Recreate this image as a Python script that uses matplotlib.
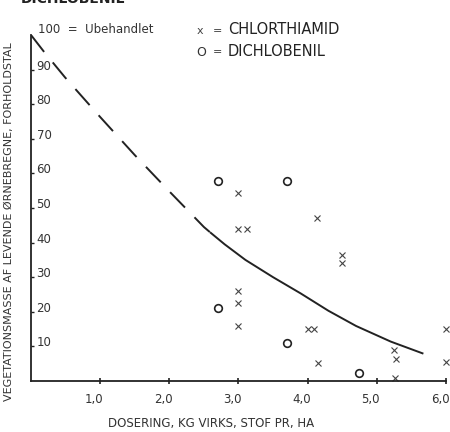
import matplotlib
matplotlib.use("Agg")
import matplotlib.pyplot as plt
from matplotlib.transforms import ScaledTranslation

plt.rcParams['font.family'] = ['DejaVu Sans']

# dose (kg active substance per ha) vs. relative vegetation mass
chlor_x = [3.0, 3.0, 3.13, 3.0, 3.0, 3.0, 4.13, 4.49, 4.50, 4.0, 4.09, 4.15,
           5.25, 5.27, 5.26, 6.0, 6.0]
chlor_y = [54.2, 43.9, 43.9, 26.1, 22.6, 15.9, 47.2, 36.4, 34.2, 14.9, 14.9, 5.1,
           9.0, 6.4, 1.0, 14.9, 5.6]

dichl_x = [2.70, 3.70, 2.70, 3.70, 4.74]
dichl_y = [57.9, 57.9, 21.2, 11.1, 2.4]

# response curve: extrapolated part dashed, fitted part solid
dash_x = [0.0, 0.19, 0.49, 1.0, 1.5, 2.0, 2.5, 2.6]
dash_y = [100.0, 95.1, 87.8, 76.3, 65.3, 54.8, 44.5, 42.8]
solid_x = [2.6, 2.8, 3.1, 3.5, 3.9, 4.3, 4.7, 5.2, 5.66]
solid_y = [42.8, 39.5, 35.0, 30.0, 25.3, 20.3, 15.9, 11.4, 8.0]

xticks = [1, 2, 3, 4, 5, 6]
xticklabels = ["1,0", "2,0", "3,0", "4,0", "5,0", "6,0"]
yticks = [10, 20, 30, 40, 50, 60, 70, 80, 90]

fig = plt.figure(figsize=(4.5, 4.32), dpi=100)
ax = fig.add_axes([31 / 450, 51 / 432, 415 / 450, 346 / 432])

ink = "#222222"
txt = "#333333"

ax.plot(dash_x, dash_y, color=ink, lw=1.4, dashes=(11, 7), solid_capstyle='butt')
ax.plot(solid_x, solid_y, color=ink, lw=1.4)
ax.plot(chlor_x, chlor_y, 'x', color="#444444", ms=4, mew=0.8, clip_on=False)
ax.plot(dichl_x, dichl_y, 'o', mfc='none', mec=ink, ms=5.5, mew=1.2, clip_on=False)

ax.set_xlim(0, 6.0)
ax.set_ylim(0, 100)
for side in ['top', 'right']:
    ax.spines[side].set_visible(False)
for side in ['left', 'bottom']:
    ax.spines[side].set_linewidth(1.3)
    ax.spines[side].set_color(ink)

ax.set_xticks(xticks)
ax.set_xticklabels(xticklabels, fontsize=8.5, color=txt)
ax.tick_params(axis='x', direction='inout', length=5, width=1.2, pad=6, colors=ink)
ax.tick_params(axis='x', labelcolor=txt)
shift = ScaledTranslation(-6 / 100, 0, fig.dpi_scale_trans)
for lab in ax.get_xticklabels():
    lab.set_transform(lab.get_transform() + shift)

ax.set_yticks(yticks)
ax.set_yticklabels([str(v) for v in yticks], fontsize=8.5, color=txt)
ax.tick_params(axis='y', direction='in', length=2.5, width=1.0, pad=-4, colors=ink)
ax.tick_params(axis='y', labelcolor=txt)
for lab in ax.get_yticklabels():
    lab.set_horizontalalignment('left')
    lab.set_verticalalignment('baseline')

ax.text(0.1, 101.5, "100  =  Ubehandlet", fontsize=8.5, color=txt,
        ha='left', va='center', clip_on=False)

fig.text(211 / 450, 1 - 423 / 432, "DOSERING, KG VIRKS, STOF PR, HA",
         fontsize=8.5, color=txt, ha='center', va='center')
fig.text(9 / 450, 1 - 222 / 432,
         "VEGETATIONSMASSE AF LEVENDE ØRNEBREGNE, FORHOLDSTAL",
         rotation=90, fontsize=8, color=txt, ha='center', va='center')

# legend written out by hand
fig.text(200 / 450, 1 - 31 / 432, "x", fontsize=8, color="#444444",
         ha='center', va='center')
fig.text(217 / 450, 1 - 31 / 432, "=", fontsize=8, color=txt,
         ha='center', va='center')
fig.text(228 / 450, 1 - 30 / 432, "CHLORTHIAMID", fontsize=10.5, color=ink,
         ha='left', va='center')
fig.text(201 / 450, 1 - 52 / 432, "O", fontsize=9, color=txt,
         ha='center', va='center')
fig.text(217 / 450, 1 - 52 / 432, "=", fontsize=8, color=txt,
         ha='center', va='center')
fig.text(228 / 450, 1 - 51 / 432, "DICHLOBENIL", fontsize=10.5, color=ink,
         ha='left', va='center')

# heading of the figure, mostly above the top edge
fig.text(21 / 450, 1 - 3 / 432, "DICHLOBENIL", fontsize=10, fontweight='bold',
         color=ink, ha='left', va='baseline')

fig.savefig("out.png", dpi=100)
